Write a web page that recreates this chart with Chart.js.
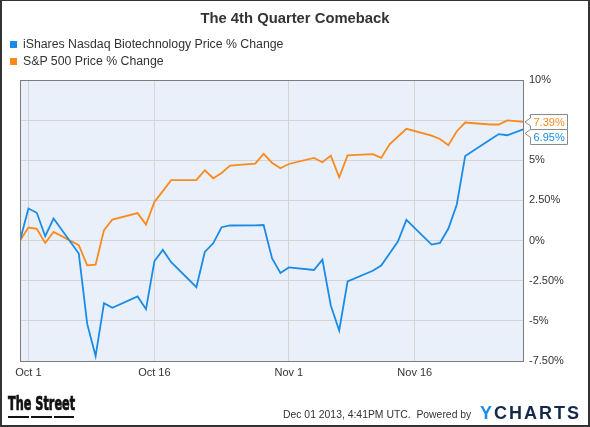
<!DOCTYPE html>
<html>
<head>
<meta charset="utf-8">
<script src="https://cdn.jsdelivr.net/npm/chart.js@4/dist/chart.umd.min.js"></script>
<style>
  html, body { margin: 0; padding: 0; background: #fff; }
  #wrap { position: relative; width: 590px; height: 427px; overflow: hidden; font-family: "Liberation Sans", Arial, sans-serif; color: #333; }
  #wrap canvas { position: absolute; left: 0; top: 0; }
  .frame { position: absolute; left: 0; top: 0; width: 590px; height: 427px; box-sizing: border-box; border: 2px solid #333; border-top-width: 1px; pointer-events: none; }
  .title { position: absolute; left: 0; top: 10px; width: 590px; text-align: center; font-weight: bold; font-size: 14.8px; line-height: 17px; color: #333; }
  .legend { position: absolute; left: 10px; top: 36px; font-size: 12.3px; line-height: 17px; color: #333; }
  .legend div { position: relative; padding-left: 13px; white-space: nowrap; }
  .legend span { position: absolute; left: 0; top: 5px; width: 7px; height: 7px; }
  .street { position: absolute; left: 8px; top: 393px; font-family: "Liberation Sans Narrow", "DejaVu Sans Condensed", sans-serif; font-weight: bold; font-size: 19px; line-height: 20px; color: #111; white-space: nowrap; transform: scaleX(0.66); transform-origin: 0 0; -webkit-text-stroke: 0.7px #111; }
  .bars { position: absolute; top: 416px; height: 2px; background: #111; }
  .stamp { position: absolute; left: 283px; top: 408px; font-size: 10.4px; line-height: 13px; color: #333; white-space: nowrap; }
  .ycharts { position: absolute; left: 480px; top: 403px; font-weight: bold; font-size: 18px; line-height: 20px; letter-spacing: 2px; color: #13294b; }
  .ycharts b { color: #1c8ee6; }
</style>
</head>
<body>
<div id="wrap">
  <canvas id="chart"></canvas>
  <div class="title">The 4th Quarter Comeback</div>
  <div class="legend" id="legend"></div>
  <div class="street">The Street</div>
  <div class="bars" style="left:8px;width:21px"></div>
  <div class="bars" style="left:31px;width:21px"></div>
  <div class="bars" style="left:54px;width:20px"></div>
  <div class="stamp">Dec 01 2013, 4:41PM UTC.&nbsp; Powered by</div>
  <div class="ycharts"><b>Y</b>CHARTS</div>
  <div class="frame"></div>
</div>
<script>
// trading days shown on the chart
const dates = [
  '2013-09-30', '2013-10-01', '2013-10-02', '2013-10-03', '2013-10-04',
  '2013-10-07', '2013-10-08', '2013-10-09', '2013-10-10', '2013-10-11',
  '2013-10-14', '2013-10-15', '2013-10-16', '2013-10-17', '2013-10-18',
  '2013-10-21', '2013-10-22', '2013-10-23', '2013-10-24', '2013-10-25',
  '2013-10-28', '2013-10-29', '2013-10-30', '2013-10-31', '2013-11-01',
  '2013-11-04', '2013-11-05', '2013-11-06', '2013-11-07', '2013-11-08',
  '2013-11-11', '2013-11-12', '2013-11-13', '2013-11-14', '2013-11-15',
  '2013-11-18', '2013-11-19', '2013-11-20', '2013-11-21', '2013-11-22',
  '2013-11-25', '2013-11-26', '2013-11-27', '2013-11-29'
];

const seriesNames = ['iShares Nasdaq Biotechnology Price % Change', 'S&P 500 Price % Change'];
const seriesColors = ['#1a8be6', '#f98a1d'];

const biotech = [
  0, 2.0, 1.73, 0.27, 1.37,
  -0.81, -5.19, -7.19, -3.9, -4.19,
  -3.48, -4.27, -1.29, -0.58, -1.35,
  -2.9, -0.71, -0.17, 0.83, 0.94,
  0.95, 0.97, -1.1, -2.02, -1.67,
  -1.83, -1.19, -4.04, -5.6, -2.54,
  -1.88, -1.56, -0.81, -0.04, 1.29,
  -0.25, -0.15, 0.75, 2.25, 5.27,
  6.3, 6.63, 6.56, 6.95
];

const sp500 = [
  0, 0.81, 0.73, -0.15, 0.54,
  -0.29, -1.54, -1.5, 0.65, 1.31,
  1.71, 1.0, 2.4, 3.08, 3.77,
  3.77, 4.38, 3.88, 4.21, 4.67,
  4.79, 5.4, 4.85, 4.5, 4.77,
  5.15, 4.88, 5.29, 3.94, 5.31,
  5.38, 5.15, 6.0, 6.48, 6.96,
  6.54, 6.33, 5.94, 6.81, 7.35,
  7.23, 7.23, 7.48, 7.39
];

const xTickDates = ['2013-10-01', '2013-10-16', '2013-11-01', '2013-11-16'];
const xTickLabels = ['Oct 1', 'Oct 16', 'Nov 1', 'Nov 16'];
const yTicks = [-7.5, -5, -2.5, 0, 2.5, 5, 7.5, 10];

// days counted from Oct 1
function dayNum(s) {
  const p = s.split('-').map(Number);
  return (Date.UTC(p[0], p[1] - 1, p[2]) - Date.UTC(2013, 9, 1)) / 86400000;
}

function pct(v) {
  return Number.isInteger(v) ? v + '%' : v.toFixed(2) + '%';
}

const legend = document.getElementById('legend');
legend.innerHTML = seriesNames.map((n, i) =>
  `<div><span style="background:${seriesColors[i]}"></span>${n.replace('&', '&amp;')}</div>`).join('');

const plotBg = {
  id: 'plotBg',
  beforeDraw(chart) {
    const a = chart.chartArea, ctx = chart.ctx;
    ctx.save();
    ctx.fillStyle = '#e9f0fa';
    ctx.fillRect(a.left, a.top, a.right - a.left, a.bottom - a.top);
    ctx.restore();
  },
  afterDraw(chart) {
    const a = chart.chartArea, ctx = chart.ctx;
    ctx.save();
    ctx.strokeStyle = '#7b7b7b';
    ctx.lineWidth = 1;
    ctx.strokeRect(Math.round(a.left) + 0.5, Math.round(a.top) + 0.5,
      Math.round(a.right - a.left) - 1, Math.round(a.bottom - a.top));

    // last value callouts
    const y = chart.scales.y;
    const items = chart.data.datasets.map((ds, i) => {
      const last = ds.data[ds.data.length - 1].y;
      return { v: last, py: y.getPixelForValue(last), color: seriesColors[i] };
    }).sort((p, q) => p.py - q.py);
    const h = 15, left = a.right + 6, w = 37;
    let prevBottom = -1e9;
    ctx.font = '11px "Liberation Sans", Arial, sans-serif';
    ctx.textBaseline = 'middle';
    items.forEach(it => {
      let top = Math.max(it.py - h / 2, prevBottom);
      prevBottom = top + h;
      const ay = Math.min(Math.max(it.py, top + 4), top + h - 4);
      const L = Math.round(left) + 0.5, T = Math.round(top) + 0.5;
      ctx.beginPath();
      ctx.moveTo(L, T);
      ctx.lineTo(L + w, T);
      ctx.lineTo(L + w, T + h);
      ctx.lineTo(L, T + h);
      ctx.lineTo(L, ay + 4);
      ctx.lineTo(a.right + 1, ay);
      ctx.lineTo(L, ay - 4);
      ctx.closePath();
      ctx.fillStyle = '#fff';
      ctx.fill();
      ctx.strokeStyle = '#8a8a8a';
      ctx.stroke();
      ctx.fillStyle = it.color;
      ctx.fillText(pct(it.v), L + 3, T + h / 2 + 0.5);
    });
    ctx.restore();
  }
};

const toPoints = vals => vals.map((v, i) => ({ x: dayNum(dates[i]), y: v }));

new Chart(document.getElementById('chart'), {
  type: 'line',
  data: {
    datasets: [
      { label: seriesNames[0], data: toPoints(biotech), borderColor: seriesColors[0] },
      { label: seriesNames[1], data: toPoints(sp500), borderColor: seriesColors[1] }
    ]
  },
  options: {
    responsive: true,
    maintainAspectRatio: false,
    animation: false,
    events: [],
    layout: { padding: { left: 20, top: 80, right: 0, bottom: 46 } },
    elements: {
      line: { borderWidth: 1.8, tension: 0 },
      point: { radius: 0 }
    },
    plugins: { legend: { display: false }, title: { display: false }, tooltip: { enabled: false } },
    scales: {
      x: {
        type: 'linear',
        min: dayNum(dates[0]),
        max: dayNum(dates[dates.length - 1]),
        afterBuildTicks: s => { s.ticks = xTickDates.map(d => ({ value: dayNum(d) })); },
        afterFit: s => { s.height = 20; },
        grid: { color: '#d4d4d4', drawTicks: false },
        border: { display: false },
        ticks: {
          padding: 5,
          maxRotation: 0,
          autoSkip: false,
          color: '#333',
          font: { family: '"Liberation Sans", Arial, sans-serif', size: 11 },
          callback: v => xTickLabels[xTickDates.map(dayNum).indexOf(v)]
        }
      },
      y: {
        position: 'right',
        min: yTicks[0],
        max: yTicks[yTicks.length - 1],
        afterBuildTicks: s => { s.ticks = yTicks.map(v => ({ value: v })); },
        afterFit: s => { s.width = 66; },
        grid: { color: '#d4d4d4', drawTicks: false },
        border: { display: false },
        ticks: {
          padding: 5,
          color: '#333',
          font: { family: '"Liberation Sans", Arial, sans-serif', size: 11 },
          callback: v => pct(v)
        }
      }
    }
  },
  plugins: [plotBg]
});
</script>
</body>
</html>
